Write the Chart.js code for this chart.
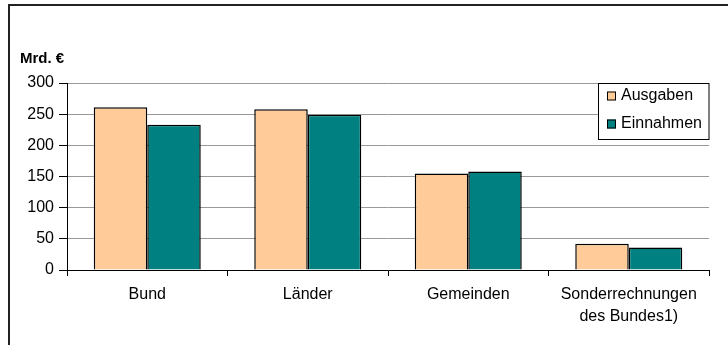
<!DOCTYPE html>
<html>
<head>
<meta charset="utf-8">
<script src="https://cdn.jsdelivr.net/npm/chart.js@4/dist/chart.umd.min.js"></script>
<style>
  html, body { margin: 0; padding: 0; background: #fff; }
  #wrap { position: relative; width: 728px; height: 345px; }
</style>
</head>
<body>
<div id="wrap"><canvas id="myChart" width="728" height="345"></canvas></div>
<script>
const categories = ['Bund', 'Länder', 'Gemeinden', ['Sonderrechnungen', 'des Bundes1)']];
const ausgaben = [261, 258, 155, 42];
const einnahmen = [233, 249, 158, 36];
const seriesNames = ['Ausgaben', 'Einnahmen'];
const yTicks = [0, 50, 100, 150, 200, 250, 300];
const unitLabel = 'Mrd. €';

const FONT = "'Liberation Sans', Arial, sans-serif";

// frame lines, unit label and the boxed legend
const decorPlugin = {
    id: 'decor',
    beforeDraw(chart) {
        const ctx = chart.ctx;
        ctx.save();
        ctx.strokeStyle = '#222';
        ctx.lineWidth = 2;
        ctx.beginPath();
        ctx.moveTo(9, 345);
        ctx.lineTo(9, 5);
        ctx.lineTo(728, 5);
        ctx.stroke();
        ctx.restore();
    },
    afterDraw(chart) {
        const ctx = chart.ctx;
        ctx.save();
        ctx.fillStyle = '#000';
        ctx.font = 'bold 15px ' + FONT;
        ctx.textBaseline = 'alphabetic';
        ctx.fillText(unitLabel, 20, 63);

        // legend box
        const area = chart.chartArea;
        const bx = 598.5, by = 83.5, bw = area.right - 598.5, bh = 56;
        ctx.fillStyle = '#fff';
        ctx.fillRect(bx, by, bw, bh);
        ctx.strokeStyle = '#000';
        ctx.lineWidth = 1;
        ctx.strokeRect(bx, by, bw, bh);
        ctx.font = '16px ' + FONT;
        ctx.textBaseline = 'middle';
        chart.data.datasets.forEach((ds, i) => {
            const cy = by + 12 + i * 28;
            ctx.fillStyle = ds.backgroundColor;
            ctx.fillRect(607, cy - 4, 9, 9);
            ctx.strokeRect(607.5, cy - 3.5, 8, 8);
            ctx.fillStyle = '#000';
            ctx.fillText(ds.label, 621, cy);
        });
        ctx.restore();
    }
};

new Chart(document.getElementById('myChart'), {
    type: 'bar',
    data: {
        labels: categories,
        datasets: [
            { label: seriesNames[0], data: ausgaben, backgroundColor: '#FFCC99', borderColor: '#000', borderWidth: 1.5 },
            { label: seriesNames[1], data: einnahmen, backgroundColor: '#008080', borderColor: '#000', borderWidth: 1.5 }
        ]
    },
    options: {
        responsive: false,
        animation: false,
        devicePixelRatio: 1,
        layout: { padding: { left: 9, right: 19, top: 83, bottom: 0 } },
        plugins: {
            legend: { display: false },
            tooltip: { enabled: false }
        },
        datasets: {
            bar: { categoryPercentage: 2 / 3, barPercentage: 1 }
        },
        scales: {
            x: {
                grid: { offset: true, drawOnChartArea: false, tickLength: 6, tickColor: '#000', lineWidth: 1 },
                border: { color: '#000', width: 1 },
                ticks: { color: '#000', font: { family: FONT, size: 16, lineHeight: 1.35 }, padding: 8, maxRotation: 0, autoSkip: false },
                afterFit(scale) { scale.height = 75; }
            },
            y: {
                min: 0,
                max: 300,
                afterBuildTicks(scale) { scale.ticks = yTicks.map(v => ({ value: v })); },
                grid: { color: '#999', tickColor: '#000', tickLength: 8, lineWidth: 1 },
                border: { color: '#000', width: 1 },
                ticks: { color: '#000', font: { family: FONT, size: 16 }, padding: 5 },
                afterFit(scale) { scale.width = 58; }
            }
        }
    },
    plugins: [decorPlugin]
});
</script>
</body>
</html>
